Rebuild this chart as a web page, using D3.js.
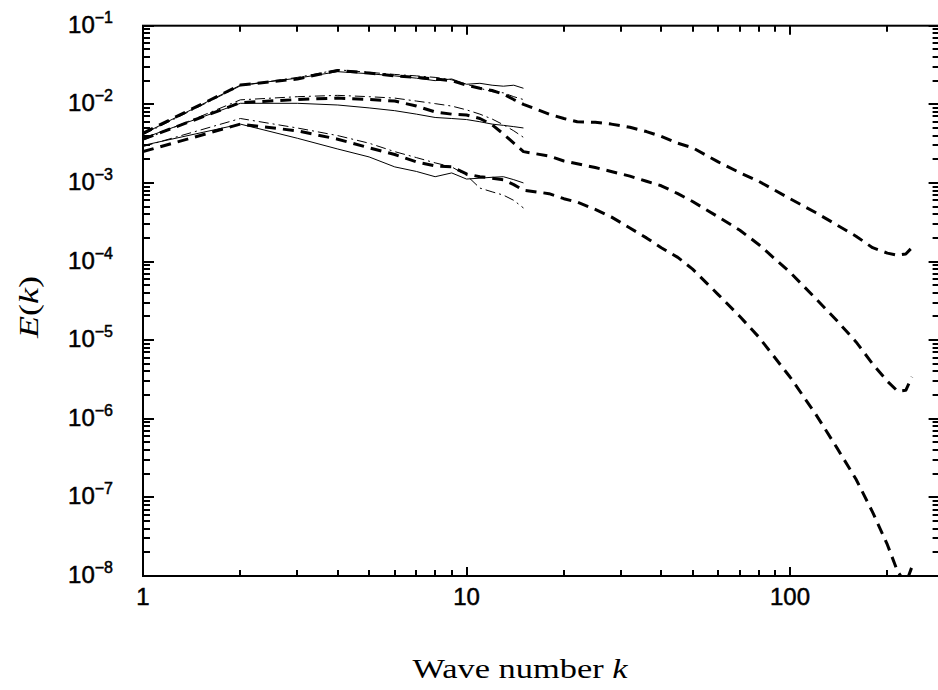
<!DOCTYPE html>
<html><head><meta charset="utf-8">
<script src="https://cdn.jsdelivr.net/npm/d3@7"></script>
<style>body{margin:0;background:#fff}</style>
</head><body><svg id="c" width="938" height="690"></svg>
<script>
// ---- data ----
const kShort = [1,2,3,4,5,6,7,8,9,10,11,12,13,14,15];
const upperSolid   = [4.2e-3,1.75e-2,2.15e-2,2.6e-2,2.45e-2,2.3e-2,2.15e-2,2.0e-2,2.1e-2,1.8e-2,1.85e-2,1.75e-2,1.7e-2,1.75e-2,1.6e-2];
const upperDashDot = [4.1e-3,1.72e-2,2.2e-2,2.75e-2,2.55e-2,2.4e-2,2.3e-2,2.2e-2,2.05e-2,1.8e-2,1.6e-2,1.45e-2,1.4e-2,1.25e-2,1.15e-2];
const midSolid     = [3.7e-3,1.03e-2,1.03e-2,9.8e-3,9.0e-3,8.3e-3,7.5e-3,6.8e-3,6.6e-3,6.4e-3,6.0e-3,5.6e-3,5.4e-3,5.2e-3,5.0e-3];
const midDashDot   = [3.5e-3,1.14e-2,1.25e-2,1.3e-2,1.25e-2,1.2e-2,1.1e-2,1.02e-2,9.5e-3,8.5e-3,7.5e-3,6.5e-3,5.5e-3,4.6e-3,3.8e-3];
const lowSolid     = [3.0e-3,5.6e-3,3.7e-3,2.7e-3,2.14e-3,1.6e-3,1.4e-3,1.2e-3,1.34e-3,1.12e-3,1.15e-3,1.18e-3,1.2e-3,1.1e-3,1.0e-3];
const lowDashDot   = [2.9e-3,6.6e-3,5.0e-3,4.0e-3,3.2e-3,2.5e-3,2.1e-3,1.8e-3,1.6e-3,1.25e-3,8.6e-4,7.7e-4,7.0e-4,6.0e-4,4.8e-4];

const kLong = [1,2,3,4,5,6,7,8,9,10,11,12,13,14,15,18,20,22,25,28,32,36,40,45,50,60,70,80,100,120,140,160,180,200,215,228,238];
const upperLong = [4.3e-3,1.76e-2,2.1e-2,2.7e-2,2.5e-2,2.3e-2,2.2e-2,2.1e-2,2.0e-2,1.75e-2,1.6e-2,1.5e-2,1.35e-2,1.15e-2,1.0e-2,
  7.5e-3,6.6e-3,6.0e-3,5.9e-3,5.6e-3,5.1e-3,4.5e-3,3.9e-3,3.2e-3,2.8e-3,1.85e-3,1.35e-3,1.05e-3,6.3e-4,4.2e-4,2.9e-4,2.1e-4,1.5e-4,1.28e-4,1.2e-4,1.25e-4,1.5e-4];
const midLong = [3.6e-3,1.05e-2,1.15e-2,1.2e-2,1.15e-2,1.1e-2,9.5e-3,8.0e-3,7.5e-3,7.3e-3,6.6e-3,5.5e-3,4.2e-3,3.2e-3,2.5e-3,
  2.2e-3,1.9e-3,1.75e-3,1.57e-3,1.4e-3,1.22e-3,1.05e-3,9.2e-4,7.3e-4,5.8e-4,3.7e-4,2.5e-4,1.65e-4,7.3e-5,3.4e-5,1.75e-5,9.5e-6,5.0e-6,3.0e-6,2.25e-6,2.3e-6,3.4e-6];
const lowLong = [2.5e-3,5.6e-3,4.6e-3,3.6e-3,2.8e-3,2.3e-3,1.85e-3,1.65e-3,1.6e-3,1.3e-3,1.2e-3,1.15e-3,1.1e-3,9.5e-4,8.1e-4,
  7.3e-4,6.3e-4,5.7e-4,4.6e-4,3.7e-4,2.67e-4,2.0e-4,1.5e-4,1.13e-4,8.0e-5,3.8e-5,2.0e-5,1.1e-5,3.4e-6,1.15e-6,4.2e-7,1.7e-7,6.5e-8,2.5e-8,1.15e-8,8e-9,1.3e-8];

const xMajor = [1,10,100];
const xMinor = [2,3,4,5,6,7,8,9,20,30,40,50,60,70,80,90,200];
const xLabels = ["1","10","100"];
const yExp = [-8,-7,-6,-5,-4,-3,-2,-1];
const yMinorMult = [2,3,4,5,6,7,8,9];

// ---- layout ----
const L = 143, T = 25.7, B = 576;
const svg = d3.select("#c");
const x = d3.scaleLog().domain([1,290]).range([L, L + 323.5*Math.log10(290)]);
const R = x.range()[1];
const y = d3.scaleLog().domain([1e-8,1e-1]).range([B,T]);

svg.append("defs").append("clipPath").attr("id","clip")
  .append("rect").attr("x",L).attr("y",T).attr("width",R-L).attr("height",B-T);

const g = svg.append("g").attr("clip-path","url(#clip)");
const line = d3.line().x(d=>x(d[0])).y(d=>y(d[1]));
function draw(ks, vs, style){
  g.append("path").datum(ks.map((k,i)=>[k,vs[i]]))
    .attr("d",line).attr("fill","none").attr("stroke","#000")
    .attr("stroke-width",style.w).attr("stroke-dasharray",style.dash||null)
    .attr("stroke-linejoin","round");
}
const thin = {w:1};
const dd = {w:1, dash:"10,4,2,4"};
const thick = {w:3, dash:"11,7"};
draw(kShort, upperSolid, thin);
draw(kShort, midSolid, thin);
draw(kShort, lowSolid, thin);
draw(kShort, upperDashDot, dd);
draw(kShort, midDashDot, dd);
draw(kShort, lowDashDot, dd);
draw(kLong, upperLong, thick);
draw(kLong, midLong, thick);
draw(kLong, lowLong, thick);

// ---- axes (ticks inward on all four sides) ----
const yMajor = yExp.map(e=>Math.pow(10,e));
const yMinor = [];
yExp.slice(0,-1).forEach(e=>yMinorMult.forEach(m=>yMinor.push(m*Math.pow(10,e))));

const tg = svg.append("g");
const r = v => Math.round(v);
function seg(x1,y1,x2,y2){
  tg.append("line").attr("x1",x1).attr("y1",y1).attr("x2",x2).attr("y2",y2)
    .attr("stroke","#000").attr("stroke-width",2);
}
xMajor.forEach(v=>{ seg(r(x(v)),B,r(x(v)),B-9); seg(r(x(v)),T,r(x(v)),T+9); });
xMinor.forEach(v=>{ seg(r(x(v)),B,r(x(v)),B-6); seg(r(x(v)),T,r(x(v)),T+6); });
yMajor.forEach(v=>{ seg(L,r(y(v)),L+11,r(y(v))); seg(R,r(y(v)),R-11,r(y(v))); });
yMinor.forEach(v=>{ seg(L,r(y(v)),L+7,r(y(v))); seg(R,r(y(v)),R-7,r(y(v))); });

svg.append("rect").attr("x",L).attr("y",T).attr("width",R-L).attr("height",B-T)
  .attr("fill","none").attr("stroke","#000").attr("stroke-width",2);

// tick labels
const font = "'Liberation Sans', Arial, sans-serif";
xMajor.forEach((v,i)=>{
  svg.append("text").attr("x",x(v)).attr("y",605).attr("text-anchor","middle")
    .attr("font-family",font).attr("font-size",24)
    .attr("stroke","#000").attr("stroke-width",0.5).text(xLabels[i]);
});
yExp.forEach(e=>{
  const t = svg.append("text").attr("x",113).attr("y",y(Math.pow(10,e))+7)
    .attr("text-anchor","end").attr("font-family",font).attr("font-size",24)
    .attr("stroke","#000").attr("stroke-width",0.5);
  t.append("tspan").text("10");
  t.append("tspan").attr("dy",-10).attr("font-size",16).text("\u2212"+Math.abs(e));
});

// axis titles
const serif = "'Liberation Serif', 'DejaVu Serif', serif";
const xTitle = svg.append("text").attr("x",520).attr("y",678).attr("text-anchor","middle")
  .attr("font-family",serif).attr("font-size",27)
  .attr("textLength",215).attr("lengthAdjust","spacingAndGlyphs");
xTitle.append("tspan").text("Wave number ");
xTitle.append("tspan").attr("font-style","italic").text("k");

const yTitle = svg.append("text").attr("transform","translate(38,307) rotate(-90)")
  .attr("text-anchor","middle").attr("font-family",serif).attr("font-size",27)
  .attr("textLength",62).attr("lengthAdjust","spacingAndGlyphs");
yTitle.append("tspan").attr("font-style","italic").text("E");
yTitle.append("tspan").text("(");
yTitle.append("tspan").attr("font-style","italic").text("k");
yTitle.append("tspan").text(")");
</script></body></html>
